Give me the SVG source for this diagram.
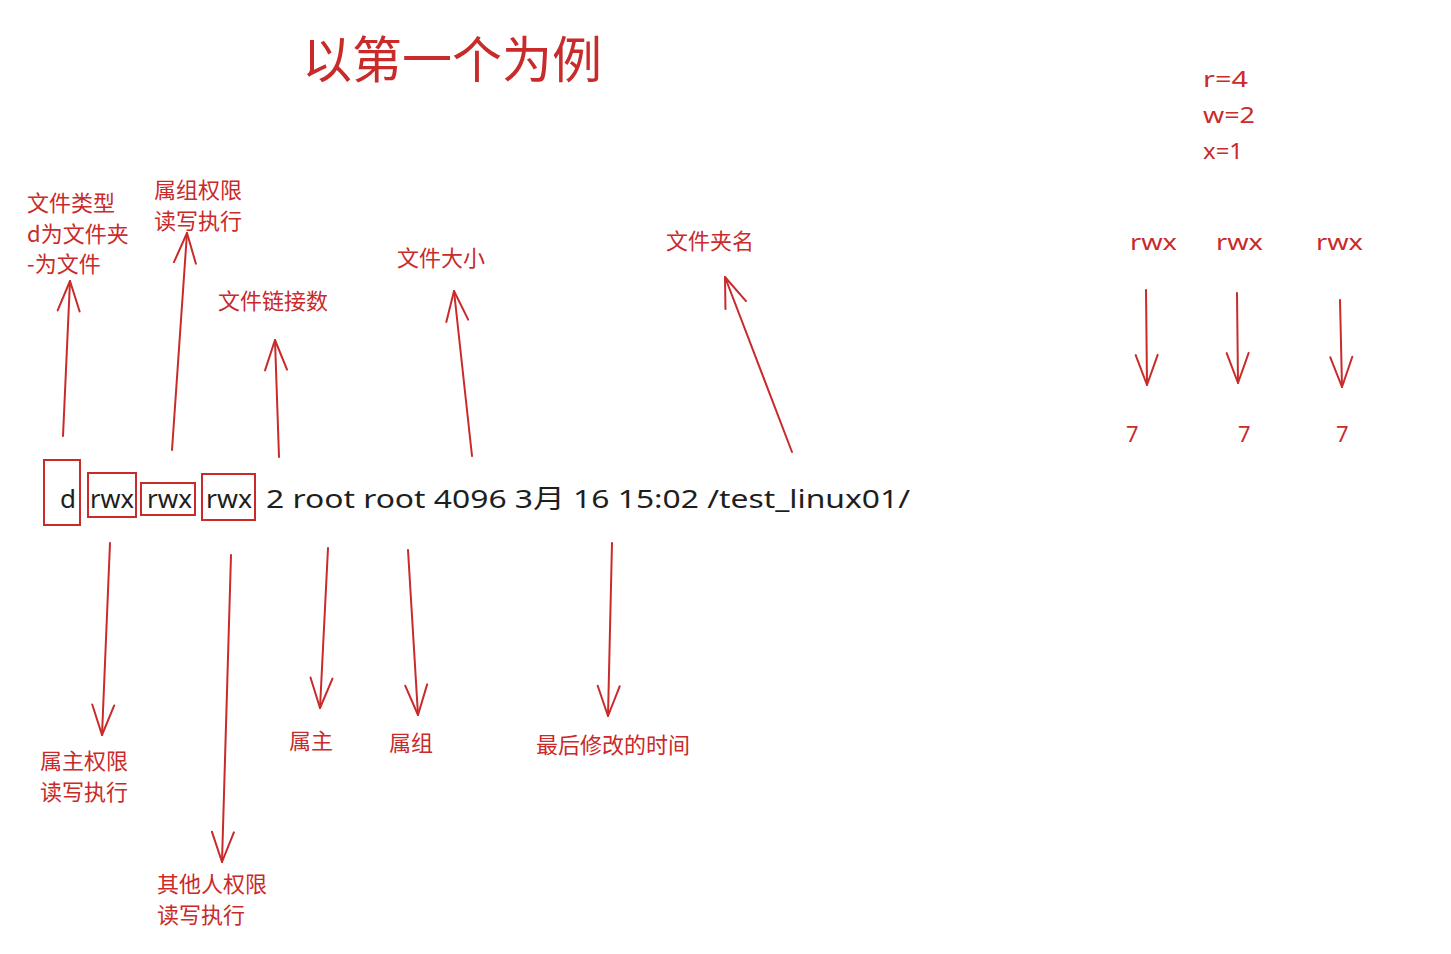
<svg xmlns="http://www.w3.org/2000/svg" width="1451" height="954" viewBox="0 0 1451 954">
<defs>
<marker id="ah" viewBox="-32 -14 34 28" refX="0" refY="0" markerWidth="34" markerHeight="28" markerUnits="userSpaceOnUse" orient="auto">
<path d="M -30 -11 L 0 0 L -30 11" fill="none" stroke="#c92a2a" stroke-width="2" stroke-linecap="round" stroke-linejoin="round"/>
</marker>
</defs>
<style>
.lbl{font-family:"Noto Sans CJK SC","Noto Sans",sans-serif;font-size:22px;fill:#c92a2a}
.title{font-family:"Noto Sans CJK SC",sans-serif;font-size:50px;fill:#c92a2a}
.hand{font-family:"Comic Sans MS","Noto Sans","Noto Sans CJK SC",sans-serif;font-size:26px;fill:#1e1e1e}
.rh{font-family:"Noto Sans","Noto Sans CJK SC",sans-serif;font-size:22px;fill:#c92a2a}
.box{fill:none;stroke:#c92a2a;stroke-width:2}
.conn{fill:none;stroke:#c92a2a;stroke-width:2;stroke-linecap:round;marker-end:url(#ah)}
</style>
<rect width="1451" height="954" fill="#ffffff"/>
<g id="title"><text class="title" x="302" y="78">以第一个为例</text></g>
<g id="ls-line">
<rect class="box" x="44" y="460" width="36" height="65"/>
<rect class="box" x="88" y="473" width="48" height="44"/>
<rect class="box" x="141" y="483" width="54" height="32"/>
<rect class="box" x="202" y="474" width="53" height="46"/>
<text class="hand" x="60" y="508">d</text>
<text class="hand" x="90" y="508" textLength="44" lengthAdjust="spacingAndGlyphs">rwx</text>
<text class="hand" x="147" y="508" textLength="45" lengthAdjust="spacingAndGlyphs">rwx</text>
<text class="hand" x="206" y="508" textLength="46" lengthAdjust="spacingAndGlyphs">rwx</text>
<text class="hand" x="266" y="508" textLength="644" lengthAdjust="spacingAndGlyphs">2 root root 4096 3月 16 15:02 /test_linux01/</text>
</g>
<g id="n-type"><text class="lbl" x="27" y="211">文件类型</text><text class="lbl" x="27" y="242">d为文件夹</text><text class="lbl" x="27" y="272">-为文件</text></g>
<g id="n-group-perm"><text class="lbl" x="154" y="198">属组权限</text><text class="lbl" x="154" y="229">读写执行</text></g>
<g id="n-links"><text class="lbl" x="218" y="309">文件链接数</text></g>
<g id="n-size"><text class="lbl" x="397" y="266">文件大小</text></g>
<g id="n-dirname"><text class="lbl" x="666" y="249">文件夹名</text></g>
<g id="n-owner-perm"><text class="lbl" x="40" y="769">属主权限</text><text class="lbl" x="40" y="800">读写执行</text></g>
<g id="n-other-perm"><text class="lbl" x="157" y="892">其他人权限</text><text class="lbl" x="157" y="923">读写执行</text></g>
<g id="n-owner"><text class="lbl" x="289" y="749">属主</text></g>
<g id="n-group"><text class="lbl" x="389" y="751">属组</text></g>
<g id="n-mtime"><text class="lbl" x="536" y="753">最后修改的时间</text></g>
<g id="n-values"><text class="rh" x="1203" y="87" textLength="45" lengthAdjust="spacingAndGlyphs">r=4</text><text class="rh" x="1203" y="123" textLength="52" lengthAdjust="spacingAndGlyphs">w=2</text><text class="rh" x="1203" y="159" textLength="40" lengthAdjust="spacingAndGlyphs">x=1</text></g>
<g id="n-rwx1"><text class="rh" x="1130" y="250" textLength="47" lengthAdjust="spacingAndGlyphs">rwx</text></g>
<g id="n-rwx2"><text class="rh" x="1216" y="250" textLength="47" lengthAdjust="spacingAndGlyphs">rwx</text></g>
<g id="n-rwx3"><text class="rh" x="1316" y="250" textLength="47" lengthAdjust="spacingAndGlyphs">rwx</text></g>
<g id="n-7a"><text class="rh" x="1126" y="442">7</text></g>
<g id="n-7b"><text class="rh" x="1238" y="442">7</text></g>
<g id="n-7c"><text class="rh" x="1336" y="442">7</text></g>
<g id="connectors">
<path class="conn" d="M 63 436 L 70 281"/>
<path class="conn" d="M 172 450 L 187 233"/>
<path class="conn" d="M 279 457 L 275 340"/>
<path class="conn" d="M 472 456 L 454 291"/>
<path class="conn" d="M 792 452 L 725 277"/>
<path class="conn" d="M 110 543 L 102 735"/>
<path class="conn" d="M 231 555 L 222 862"/>
<path class="conn" d="M 328 548 L 320 708"/>
<path class="conn" d="M 408 550 L 418 715"/>
<path class="conn" d="M 612 543 L 608 716"/>
<path class="conn" d="M 1146 290 L 1147 385"/>
<path class="conn" d="M 1237 293 L 1238 383"/>
<path class="conn" d="M 1340 300 L 1342 387"/>
</g>
</svg>
